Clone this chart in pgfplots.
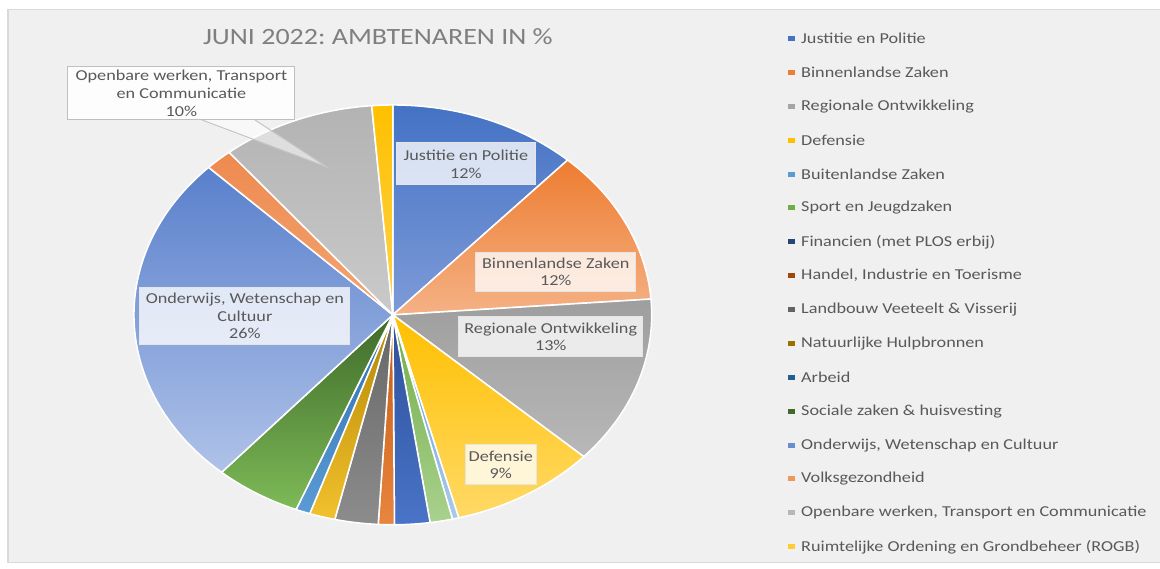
\documentclass[border=0pt]{standalone}
\usepackage{pgfplots}
\pgfplotsset{compat=1.18}
\usepackage{pgfplotstable}
\usepackage{fontspec}
\setmainfont{Carlito}[FakeStretch=1.2]
\frenchspacing
\definecolor{txt}{HTML}{595959}
\definecolor{ttl}{HTML}{7F7F7F}
\definecolor{panel}{HTML}{F0F0F0}
\definecolor{panelb}{HTML}{D9D9D9}
% slice top / bottom (gradient) colours and legend colours
\definecolor{t1}{HTML}{4472C4}\definecolor{b1}{HTML}{7E9BD8}\definecolor{l1}{HTML}{4472C4}
\definecolor{t2}{HTML}{ED7D31}\definecolor{b2}{HTML}{F5B185}\definecolor{l2}{HTML}{ED7D31}
\definecolor{t3}{HTML}{9E9E9E}\definecolor{b3}{HTML}{B8B8B8}\definecolor{l3}{HTML}{A5A5A5}
\definecolor{t4}{HTML}{FFC000}\definecolor{b4}{HTML}{FFD966}\definecolor{l4}{HTML}{FFC000}
\definecolor{t5}{HTML}{5B9BD5}\definecolor{b5}{HTML}{A9CBEA}\definecolor{l5}{HTML}{5B9BD5}
\definecolor{t6}{HTML}{70AD47}\definecolor{b6}{HTML}{A9D18E}\definecolor{l6}{HTML}{70AD47}
\definecolor{t7}{HTML}{2B4F9A}\definecolor{b7}{HTML}{4A74C8}\definecolor{l7}{HTML}{264478}
\definecolor{t8}{HTML}{C55A11}\definecolor{b8}{HTML}{E8853F}\definecolor{l8}{HTML}{9E480E}
\definecolor{t9}{HTML}{666666}\definecolor{b9}{HTML}{8C8C8C}\definecolor{l9}{HTML}{636363}
\definecolor{t10}{HTML}{B38600}\definecolor{b10}{HTML}{F2C12E}\definecolor{l10}{HTML}{997300}
\definecolor{t11}{HTML}{2E6EAE}\definecolor{b11}{HTML}{5B9BD5}\definecolor{l11}{HTML}{255E91}
\definecolor{t12}{HTML}{3F6B2A}\definecolor{b12}{HTML}{7DBA57}\definecolor{l12}{HTML}{43682B}
\definecolor{t13}{HTML}{5A80CC}\definecolor{b13}{HTML}{AFC2E8}\definecolor{l13}{HTML}{698ED0}
\definecolor{t14}{HTML}{ED8A50}\definecolor{b14}{HTML}{F4A572}\definecolor{l14}{HTML}{F1975A}
\definecolor{t15}{HTML}{B3B3B3}\definecolor{b15}{HTML}{CACACA}\definecolor{l15}{HTML}{B7B7B7}
\definecolor{t16}{HTML}{FFC000}\definecolor{b16}{HTML}{FFD24A}\definecolor{l16}{HTML}{FFCD33}

\pgfplotstableread[col sep=semicolon]{
name;value
Justitie en Politie;11.8
Binnenlandse Zaken;12.0
Regionale Ontwikkeling;13.0
Defensie;9.1
Buitenlandse Zaken;0.4
Sport en Jeugdzaken;1.4
Financien (met PLOS erbij);2.2
Handel, Industrie en Toerisme;1.0
Landbouw Veeteelt \& Visserij;2.7
Natuurlijke Hulpbronnen;1.6
Arbeid;0.9
Sociale zaken \& huisvesting;5.4
Onderwijs, Wetenschap en Cultuur;25.9
Volksgezondheid;1.7
Openbare werken, Transport en Communicatie;9.6
Ruimtelijke Ordening en Grondbeheer (ROGB);1.3
}\slices

\newcommand{\lfont}{\fontsize{5.95pt}{7pt}\selectfont}
\tikzset{dl/.style={fill=white, fill opacity=0.78, text opacity=1,
  draw=white!80!gray, line width=0.4pt, text=txt, font=\lfont,
  align=center, inner sep=0pt}}

\begin{document}
\begin{tikzpicture}
\begin{axis}[width=16cm, height=7.8483cm, scale only axis,
  xmin=0, xmax=1160, ymin=0, ymax=569, y dir=reverse,
  axis lines=none, ticks=none, clip=false]
\fill[white] (axis cs:0,0) rectangle (axis cs:1160,569);
\fill[panel] (axis cs:8,10) rectangle (axis cs:1160,563);
\draw[panelb, line width=0.4pt] (axis cs:1160,10) -- (axis cs:8,10) -- (axis cs:8,563) -- (axis cs:1160,563);
\node[font=\fontsize{9.15pt}{11pt}\selectfont, text=ttl, inner sep=0pt] at (axis cs:378,37) {JUNI 2022: AMBTENAREN IN \%};
% pie slices
\def\cum{0}
\pgfplotsforeachungrouped \i in {0,...,15}{%
  \pgfplotstablegetelem{\i}{value}\of\slices
  \let\val\pgfplotsretval
  \pgfmathtruncatemacro\k{\i+1}%
  \pgfmathsetmacro\sa{90-3.6*\cum}%
  \pgfmathsetmacro\cum{\cum+\val}%
  \pgfmathsetmacro\ea{90-3.6*\cum}%
  \edef\temp{\noexpand\shadedraw[top color=t\k, bottom color=b\k, draw=white, line width=0.6pt, line join=round] (axis cs:393,315) -- ++(\sa:101.645pt and 82.415pt) arc[start angle=\sa, end angle=\ea, x radius=101.645pt, y radius=82.415pt] -- cycle;}%
  \temp
}
% legend
\pgfplotsforeachungrouped \i in {0,...,15}{%
  \pgfplotstablegetelem{\i}{name}\of\slices
  \let\nm\pgfplotsretval
  \pgfmathtruncatemacro\k{\i+1}%
  \pgfmathsetmacro\yy{38.5+33.9*\i}%
  \pgfmathsetmacro\ya{\yy-2.5}%
  \pgfmathsetmacro\yb{\yy+2.5}%
  \edef\temp{\noexpand\fill[l\k] (axis cs:788.5,\ya) rectangle (axis cs:795.5,\yb);
    \noexpand\node[anchor=west, text=txt, font=\noexpand\lfont, inner sep=0pt] at (axis cs:801,\yy) {\unexpanded\expandafter{\nm}};}%
  \temp
}
% data labels
\node[dl, minimum width=54.55pt, minimum height=16.48pt] at (axis cs:466,164) {Justitie en Politie\\12\%};
\node[dl, minimum width=62.79pt, minimum height=15.31pt] at (axis cs:556,272) {Binnenlandse Zaken\\12\%};
\node[dl, minimum width=72.21pt, minimum height=15.70pt] at (axis cs:551,337) {Regionale Ontwikkeling\\13\%};
\node[dl, minimum width=27.86pt, minimum height=15.70pt] at (axis cs:501,465) {Defensie\\9\%};
\node[dl, minimum width=82.41pt, minimum height=22.37pt] at (axis cs:245,316) {Onderwijs, Wetenschap en\\Cultuur\\26\%};
% callout
\filldraw[fill=white, fill opacity=0.55, draw=gray!45, line width=0.4pt] (axis cs:202,120) -- (axis cs:327,167) -- (axis cs:255,120);
\node[dl, fill opacity=0.92, draw=gray!50, minimum width=89.09pt, minimum height=20.80pt] at (axis cs:181.5,93.5) {Openbare werken, Transport\\en Communicatie\\10\%};
\end{axis}
\end{tikzpicture}
\end{document}
